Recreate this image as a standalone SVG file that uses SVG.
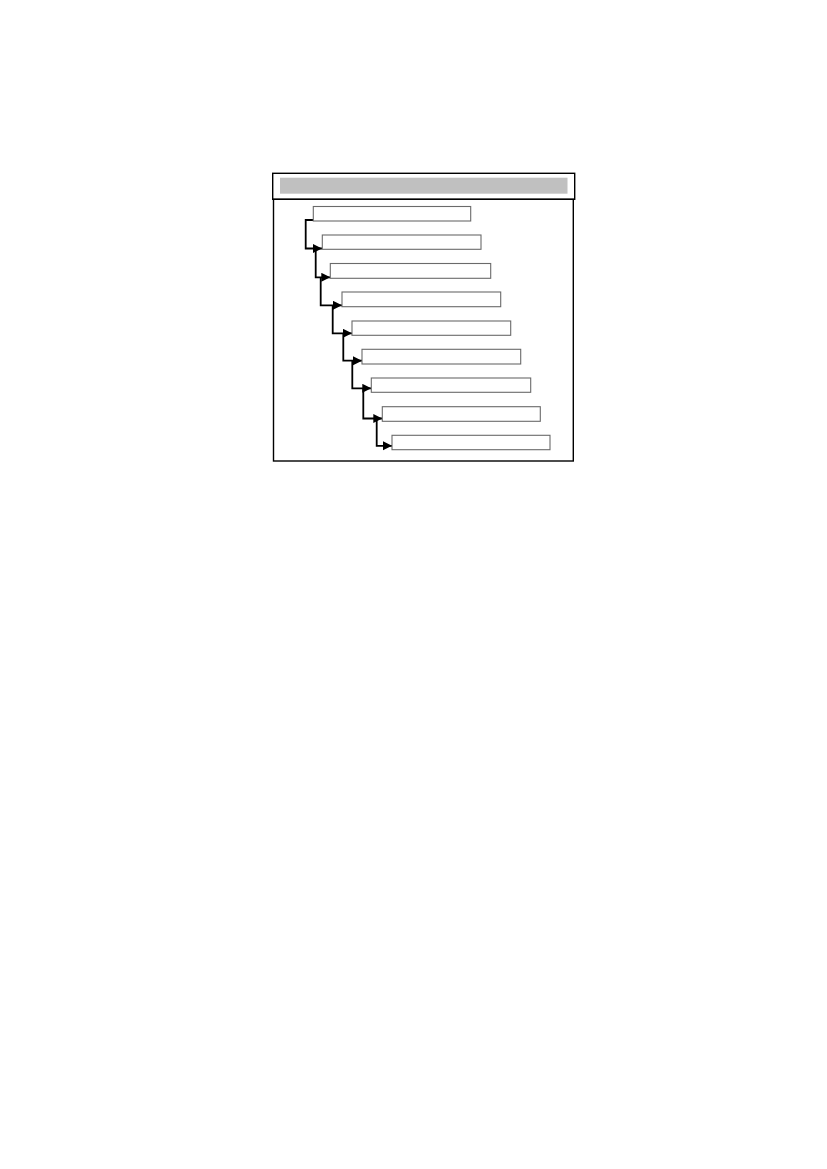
<svg xmlns="http://www.w3.org/2000/svg" width="827" height="1169" viewBox="0 0 827 1169">
<style>
.frame{fill:none;stroke:#000;stroke-width:1.4}
.bar{fill:#c0c0c0;stroke:none}
.box{fill:#fff;stroke:#6a6a6a;stroke-width:1.1}
.conn{fill:none;stroke:#000;stroke-width:1.8;marker-end:url(#arr)}
</style>
<defs>
<marker id="arr" markerUnits="userSpaceOnUse" markerWidth="10" markerHeight="10" refX="9" refY="4.5" orient="auto">
<path d="M0,0 L9,4.5 L0,9 Z" fill="#000"/>
</marker>
</defs>
<rect width="827" height="1169" fill="#fff"/>
<g id="frame">
<rect class="frame" x="272.7" y="173.3" width="302" height="26"/>
<rect class="bar" x="280" y="177.7" width="287.5" height="16"/>
<rect class="frame" x="273.5" y="199.3" width="299.8" height="261.7"/>
</g>
<g id="connectors">
<path class="conn" d="M313.3,220 H305.7 V248.5 H322"/>
<path class="conn" d="M315.7,248.5 V277.3 H330.3"/>
<path class="conn" d="M320.7,277.3 V305.3 H342"/>
<path class="conn" d="M332.7,305.3 V333.3 H352"/>
<path class="conn" d="M343.3,333.3 V360.7 H362"/>
<path class="conn" d="M352.3,360.7 V388.3 H371.3"/>
<path class="conn" d="M363.3,388.3 V418.5 H382.3"/>
<path class="conn" d="M376.7,418.5 V445.8 H392"/>
</g>
<g id="n1"><rect class="box" x="313.3" y="206.5" width="157.4" height="14.5"/></g>
<g id="n2"><rect class="box" x="322.3" y="235" width="158.7" height="14.3"/></g>
<g id="n3"><rect class="box" x="330.3" y="263.5" width="160.4" height="14.8"/></g>
<g id="n4"><rect class="box" x="342" y="292" width="158.7" height="14.7"/></g>
<g id="n5"><rect class="box" x="352" y="321" width="158.7" height="14.3"/></g>
<g id="n6"><rect class="box" x="362" y="349.3" width="158.7" height="14.7"/></g>
<g id="n7"><rect class="box" x="371.3" y="378" width="159.4" height="14.3"/></g>
<g id="n8"><rect class="box" x="382.3" y="406.7" width="158" height="14.6"/></g>
<g id="n9"><rect class="box" x="392" y="435.3" width="158" height="14.4"/></g>
</svg>
